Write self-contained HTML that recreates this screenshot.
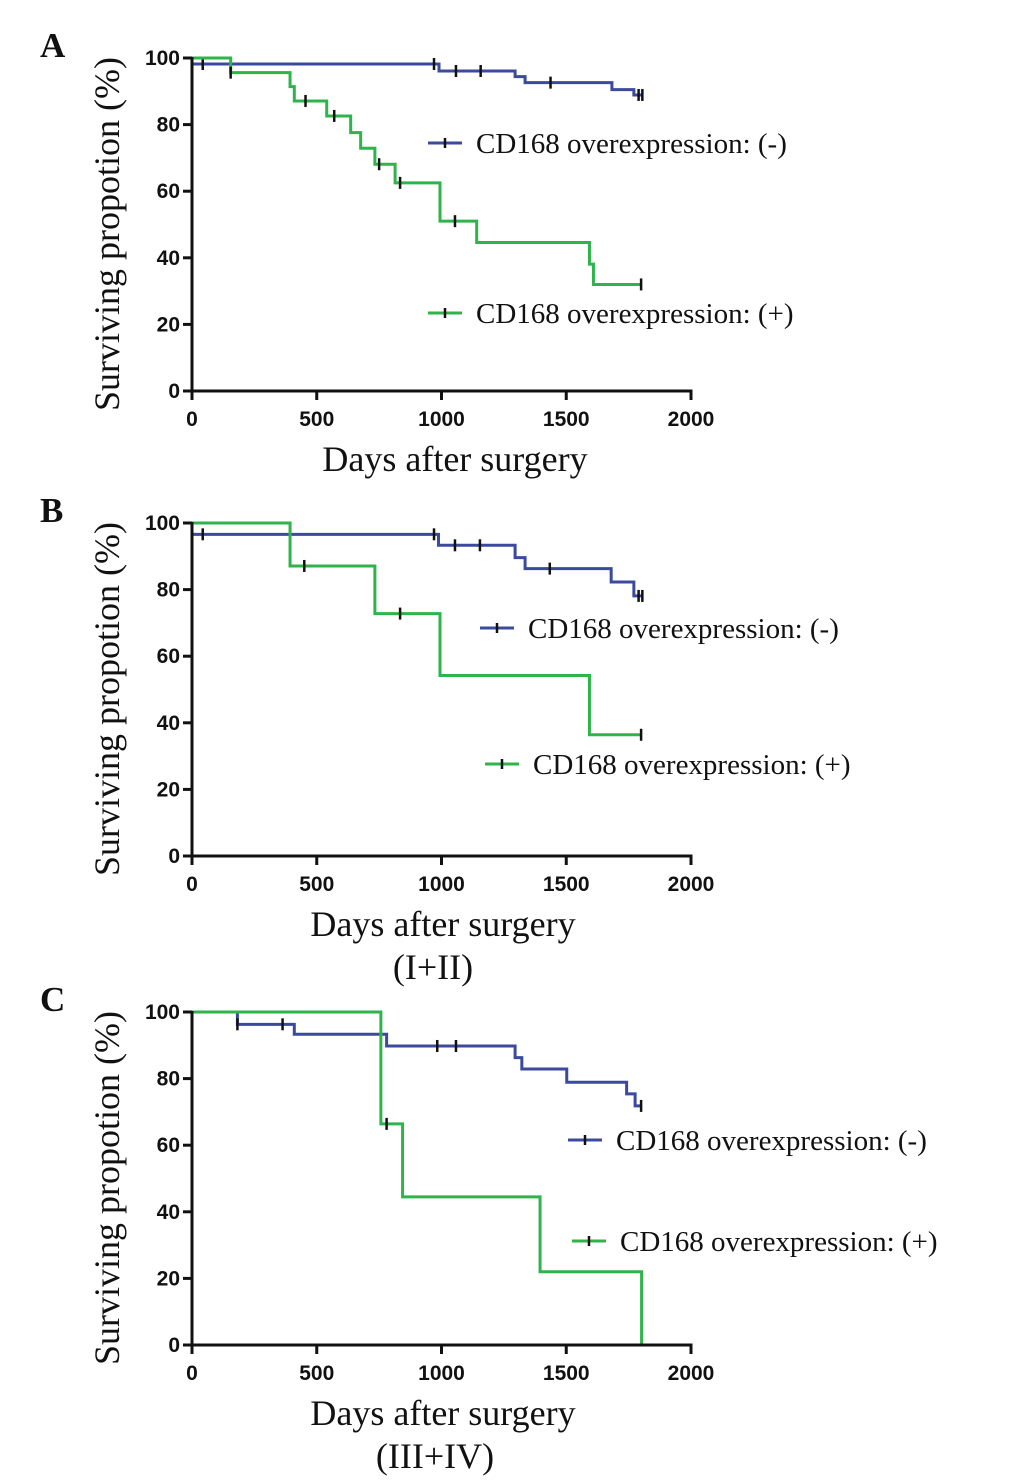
<!DOCTYPE html>
<html><head><meta charset="utf-8"><style>
html,body{margin:0;padding:0;background:#fff;}
svg{display:block;}
.tk{font-family:"Liberation Sans",Arial,sans-serif;font-weight:bold;font-size:21px;fill:#111;}
.sf{font-family:"Liberation Serif","Times New Roman",serif;fill:#111;}
</style></head><body>
<svg id="chart" width="1033" height="1482" viewBox="0 0 1033 1482" xmlns="http://www.w3.org/2000/svg"></svg>
<script>
// Panel A
const aNegT = [0, 990, 1295, 1335, 1683, 1771];
const aNegS = [98.2, 96.1, 94.4, 92.6, 90.5, 88.9];
const aNegC = [43, 970, 1058, 1157, 1437, 1790, 1805];
const aPosT = [0, 155, 393, 410, 540, 636, 676, 733, 814, 994, 1141, 1593, 1609];
const aPosS = [100, 95.6, 91.4, 87.1, 82.6, 77.6, 72.9, 68.1, 62.5, 51.0, 44.6, 38.1, 32.0];
const aPosC = [155, 455, 570, 750, 834, 1054, 1800];
// Panel B
const bNegT = [0, 988, 1295, 1335, 1680, 1771];
const bNegS = [96.6, 93.3, 89.6, 86.3, 82.3, 78.1];
const bNegC = [43, 970, 1054, 1154, 1434, 1790, 1805];
const bPosT = [0, 393, 733, 994, 1593];
const bPosS = [100, 87.1, 72.8, 54.2, 36.4];
const bPosC = [450, 834, 1800];
// Panel C
const cNegT = [0, 182, 410, 780, 1295, 1322, 1502, 1742, 1776];
const cNegS = [100, 96.3, 93.3, 89.8, 86.3, 82.9, 78.9, 75.4, 71.8];
const cNegC = [182, 363, 983, 1058, 1800];
const cPosT = [0, 757, 844, 1395, 1802];
const cPosS = [100, 66.4, 44.5, 22.0, 0];
const cPosC = [780];

const xTicks = [0, 500, 1000, 1500, 2000];
const yTicks = [0, 20, 40, 60, 80, 100];
const BLUE = "#3b4a9e", GREEN = "#2fb34b";
const NS = "http://www.w3.org/2000/svg";
const svg = document.getElementById('chart');

function mk(tag, attrs, parent) {
  const e = document.createElementNS(NS, tag);
  for (const k in attrs) e.setAttribute(k, attrs[k]);
  (parent || svg).appendChild(e);
  return e;
}

function panel(cfg) {
  const g = mk('g', {});
  
  
  const x0 = 192, x1 = 691, y0 = cfg.y0, y1 = cfg.y0 - 333;
  const sx = t => x0 + (t / 2000) * (x1 - x0);
  const sy = v => y0 - (v / 100) * (y0 - y1);

  const lt = mk('text', {x: 40, y: y1 - 1, class: 'sf', 'font-size': 35, 'font-weight': 'bold'}, g);
  lt.textContent = cfg.id;
  
  

  function curve(T, S, C, color, nm) {
    const sg = mk('g', {}, g);
    
    
    const end = Math.max(T[T.length - 1], C.length ? Math.max(...C) : 0);
    let d = 'M' + sx(T[0]) + ' ' + sy(S[0]);
    for (let i = 1; i < T.length; i++) d += ' H' + sx(T[i]) + ' V' + sy(S[i]);
    if (end > T[T.length - 1]) d += ' H' + sx(end);
    const p = mk('path', {d: d, fill: 'none', stroke: color, 'stroke-width': 3}, sg);
    
    
    function sAt(t) { let s = S[0]; for (let i = 0; i < T.length; i++) if (T[i] <= t) s = S[i]; return s; }
    C.forEach(t => {
      const cx = sx(t), cy = sy(sAt(t));
      const m = mk('line', {x1: cx, x2: cx, y1: cy - 6, y2: cy + 6, stroke: '#111', 'stroke-width': 2.5}, sg);
      
      
    });
  }
  curve(cfg.nT, cfg.nS, cfg.nC, BLUE, 'curve-cd168-negative');
  curve(cfg.pT, cfg.pS, cfg.pC, GREEN, 'curve-cd168-positive');

  const ax = mk('g', {}, g);
  
  
  mk('line', {x1: x0, x2: x0, y1: y1 - 1, y2: y0 + 9, stroke: '#111', 'stroke-width': 3}, ax);
  mk('line', {x1: x0 - 9, x2: x1 + 1.5, y1: y0, y2: y0, stroke: '#111', 'stroke-width': 3}, ax);
  yTicks.forEach(v => {
    mk('line', {x1: x0 - 9, x2: x0, y1: sy(v), y2: sy(v), stroke: '#111', 'stroke-width': 3}, ax);
    const t = mk('text', {x: x0 - 12, y: sy(v) + 7, 'text-anchor': 'end', class: 'tk'}, ax);
    t.textContent = v;
    
    
  });
  xTicks.forEach(v => {
    mk('line', {x1: sx(v), x2: sx(v), y1: y0, y2: y0 + 9, stroke: '#111', 'stroke-width': 3}, ax);
    const t = mk('text', {x: sx(v), y: y0 + 35, 'text-anchor': 'middle', class: 'tk'}, ax);
    t.textContent = v;
    
    
  });
  const yt = mk('text', {x: 0, y: 0, class: 'sf', 'font-size': 36, 'text-anchor': 'middle',
    transform: 'translate(119,' + (y0 - 157) + ') rotate(-90)'}, g);
  yt.textContent = 'Surviving propotion (%)';
  
  
  const xt = mk('text', {x: cfg.xtX, y: y0 + 80, class: 'sf', 'font-size': 36, 'text-anchor': 'middle'}, g);
  xt.textContent = 'Days after surgery';
  
  
  if (cfg.sub) {
    const st = mk('text', {x: cfg.subX, y: y0 + 123, class: 'sf', 'font-size': 36, 'text-anchor': 'middle'}, g);
    st.textContent = cfg.sub;
    
    
  }
  function leg(lx, ly, color, label) {
    const lg = mk('g', {}, g);
    
    
    mk('line', {x1: lx, x2: lx + 34, y1: ly, y2: ly, stroke: color, 'stroke-width': 3}, lg);
    mk('line', {x1: lx + 17, x2: lx + 17, y1: ly - 5, y2: ly + 5, stroke: '#111', 'stroke-width': 2.5}, lg);
    const t = mk('text', {x: lx + 48, y: ly + 10, class: 'sf', 'font-size': 29}, lg);
    t.textContent = label;
  }
  leg(cfg.l1x, cfg.l1y, BLUE, 'CD168 overexpression: (-)');
  leg(cfg.l2x, cfg.l2y, GREEN, 'CD168 overexpression: (+)');
}

panel({id: 'A', y0: 391, nT: aNegT, nS: aNegS, nC: aNegC, pT: aPosT, pS: aPosS, pC: aPosC,
  xtX: 455, l1x: 428, l1y: 143, l2x: 428, l2y: 313});
panel({id: 'B', y0: 856, nT: bNegT, nS: bNegS, nC: bNegC, pT: bPosT, pS: bPosS, pC: bPosC,
  xtX: 443, sub: '(I+II)', subX: 433, l1x: 480, l1y: 628, l2x: 485, l2y: 764});
panel({id: 'C', y0: 1345, nT: cNegT, nS: cNegS, nC: cNegC, pT: cPosT, pS: cPosS, pC: cPosC,
  xtX: 443, sub: '(III+IV)', subX: 435, l1x: 568, l1y: 1140, l2x: 572, l2y: 1241});
</script>
</body></html>
